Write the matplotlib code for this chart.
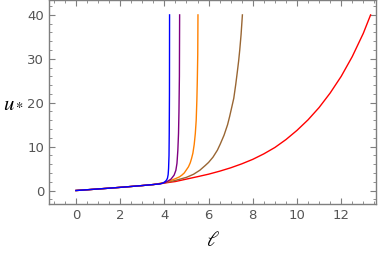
import numpy as np
import matplotlib.pyplot as plt
from matplotlib.ticker import MultipleLocator

#   Data (ell, u*)
ell_base = [0, 0.5, 1, 1.5, 2, 2.5, 3, 3.5]
u_base = [0, 0.17, 0.35, 0.53, 0.72, 0.92, 1.13, 1.36]

ell_blue = ell_base + [3.8, 3.95, 4.05, 4.1, 4.14, 4.17, 4.19, 4.21, 4.22, 4.23, 4.235]
u_blue = u_base + [1.5, 1.75, 2.1, 2.4, 2.8, 3.6, 5.0, 8, 13, 22, 40]

ell_purple = ell_base + [3.9, 4.1, 4.3, 4.44, 4.52, 4.57, 4.61, 4.64, 4.66, 4.68, 4.69]
u_purple = u_base + [1.6, 1.95, 2.6, 3.5, 4.6, 6.2, 9.2, 13, 18, 26, 40]

ell_orange = ell_base + [4.0, 4.3, 4.5, 4.68, 4.79, 4.9, 4.99, 5.09, 5.17, 5.23,
                         5.29, 5.35, 5.40, 5.44, 5.47, 5.49, 5.51, 5.52]
u_orange = u_base + [1.8, 2.3, 2.7, 3.1, 3.5, 4.0, 4.66, 5.4, 6.3, 7.3,
                     8.5, 10.5, 13, 16, 20.6, 25, 31, 40]

ell_brown = ell_base + [4.0, 4.5, 5.0, 5.32, 5.6, 5.85, 6.0, 6.2, 6.4, 6.53, 6.7,
                        6.86, 6.95, 7.05, 7.14, 7.23, 7.3, 7.36, 7.41, 7.47, 7.53]
u_brown = u_base + [1.75, 2.3, 3.0, 3.7, 4.6, 5.7, 6.4, 7.6, 9.2, 10.6, 12.6,
                    15.0, 16.8, 19.0, 21.0, 24.2, 27.0, 29.5, 32, 35.5, 40]

ell_red = ell_base + [4.0, 4.5, 5.0, 5.5, 6.0, 6.5, 7.0, 7.5, 8.0, 8.5, 9.0, 9.5,
                      10.0, 10.5, 11.0, 11.5, 12.0, 12.5, 13.0, 13.33]
u_red = u_base + [1.7, 2.05, 2.6, 3.15, 3.72, 4.4, 5.17, 6.07, 7.1, 8.35, 9.8, 11.6,
                  13.7, 16.1, 18.9, 22.2, 26.0, 30.5, 35.8, 40]

curves = [
    (ell_red, u_red, (1, 0, 0)),
    (ell_brown, u_brown, (0.6, 0.4, 0.2)),
    (ell_orange, u_orange, (1, 0.5, 0)),
    (ell_purple, u_purple, (0.5, 0, 0.5)),
    (ell_blue, u_blue, (0, 0, 1)),
]

#   Figure
plt.rcParams['mathtext.fontset'] = 'stix'
fig = plt.figure(figsize=(3.81, 2.59), dpi=100)
ax = fig.add_axes([0.1286, 0.2124, 0.858, 0.786])

for x, y, c in curves:
    ax.plot(x, y, color=c, lw=1.0)

ax.set_xlim(-1.22, 13.57)
ax.set_ylim(-3.07, 43.3)

gray = '#7f7f7f'
ax.xaxis.set_major_locator(MultipleLocator(2))
ax.xaxis.set_minor_locator(MultipleLocator(0.5))
ax.yaxis.set_major_locator(MultipleLocator(10))
ax.yaxis.set_minor_locator(MultipleLocator(2))
ax.tick_params(which='both', direction='in', top=True, right=True,
               color=gray, labelcolor='#555555', labelsize=9.5)
ax.tick_params(which='major', length=4, width=0.8)
ax.tick_params(which='minor', length=2.2, width=0.6)
for s in ax.spines.values():
    s.set_color(gray)
    s.set_linewidth(1.0)

ax.set_ylabel(r'$u_*$', rotation=0, fontsize=15, va='center')
ax.yaxis.set_label_coords(-0.11, 0.5)
ax.set_xlabel(r'$\ell$', fontsize=15)
ax.xaxis.set_label_coords(0.5, -0.13)

fig.savefig('out.png', dpi=100)
